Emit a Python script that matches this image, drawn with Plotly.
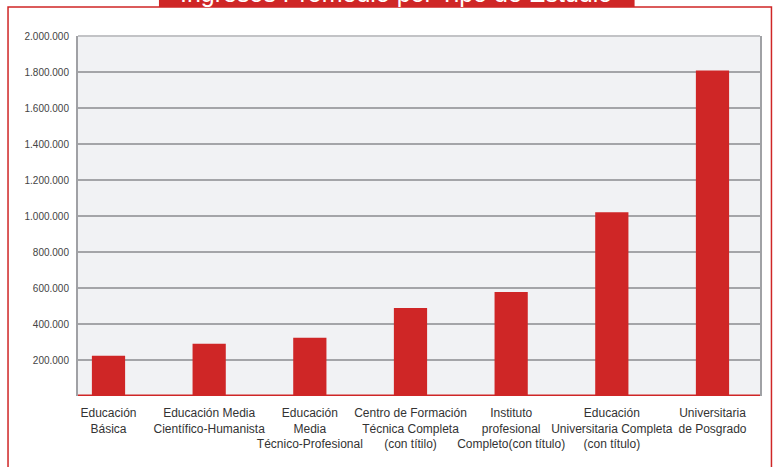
import plotly.graph_objects as go

categories = [
    "Educación<br>Básica",
    "Educación Media<br>Científico-Humanista",
    "Educación<br>Media<br>Técnico-Profesional",
    "Centro de Formación<br>Técnica Completa<br>(con títilo)",
    "Instituto<br>profesional<br>Completo(con título)",
    "Educación<br>Universitaria Completa<br>(con título)",
    "Universitaria<br>de Posgrado",
]
ingresos = [224000, 290000, 324000, 489000, 578000, 1021000, 1808000]

ytick_vals = [200000, 400000, 600000, 800000, 1000000, 1200000, 1400000, 1600000, 1800000, 2000000]
ytick_labels = ["200.000", "400.000", "600.000", "800.000", "1.000.000", "1.200.000",
                "1.400.000", "1.600.000", "1.800.000", "2.000.000"]

title_text = "Ingresos Promedio por Tipo de Estudio"

RED = "#cf2626"

fig = go.Figure()
fig.add_trace(go.Bar(
    x=list(range(len(categories))),
    y=ingresos,
    marker=dict(color=RED, line=dict(width=0)),
    width=0.33,
    hoverinfo="skip",
))

fig.update_layout(
    width=778, height=467,
    margin=dict(l=78, r=17.5, t=35.5, b=70.5, autoexpand=False),
    paper_bgcolor="white",
    plot_bgcolor="#f1f2f4",
    showlegend=False,
    separators=",.",
    font=dict(family="Liberation Sans, Arial, sans-serif", color="#333333"),
    xaxis=dict(
        tickmode="array",
        tickvals=list(range(len(categories))),
        ticktext=categories,
        range=[-0.303, 6.472],
        showgrid=False,
        zeroline=False,
        showline=False,
        ticks="",
        tickangle=0,
        automargin=False,
        tickfont=dict(size=12, color="#333333"),
        ticklabelstandoff=8,
    ),
    yaxis=dict(
        range=[0, 2000000],
        tickmode="array",
        tickvals=ytick_vals,
        ticktext=ytick_labels,
        showgrid=True,
        gridcolor="#a4a5a8",
        gridwidth=1.5,
        zeroline=False,
        showline=True,
        linecolor="#a0a1a5",
        linewidth=2,
        mirror=True,
        ticks="",
        automargin=False,
        tickfont=dict(size=10, color="#444444"),
        ticklabelstandoff=5,
    ),
    shapes=[
        # red outer frame
        dict(type="rect", xref="paper", yref="paper",
             x0=-0.1026, x1=1.0168, y0=-0.5, y1=1.0803,
             line=dict(color=RED, width=1.5), fillcolor="rgba(0,0,0,0)", layer="below"),
        # title banner
        dict(type="rect", xref="paper", yref="paper",
             x0=0.1187, x1=0.8161, y0=1.0803, y1=1.3,
             line=dict(width=0), fillcolor=RED, layer="above"),
        # top border of plot
        dict(type="line", xref="paper", yref="paper",
             x0=0, x1=1, y0=1, y1=1,
             line=dict(color="#c2c3c6", width=2), layer="above"),
        # red baseline
        dict(type="line", xref="paper", yref="y",
             x0=0, x1=1, y0=0, y1=0,
             line=dict(color=RED, width=3), layer="above"),
    ],
    annotations=[
        dict(text=title_text, xref="paper", yref="paper",
             x=0.466, y=1.0803, xanchor="center", yanchor="bottom",
             yshift=-2, showarrow=False,
             font=dict(size=25, color="white", family="Liberation Sans, Arial, sans-serif")),
    ],
)

fig.write_html(
    "out.html",
    config={"displayModeBar": False},
    post_script="document.body.style.margin='0';document.body.style.overflow='hidden';",
)
